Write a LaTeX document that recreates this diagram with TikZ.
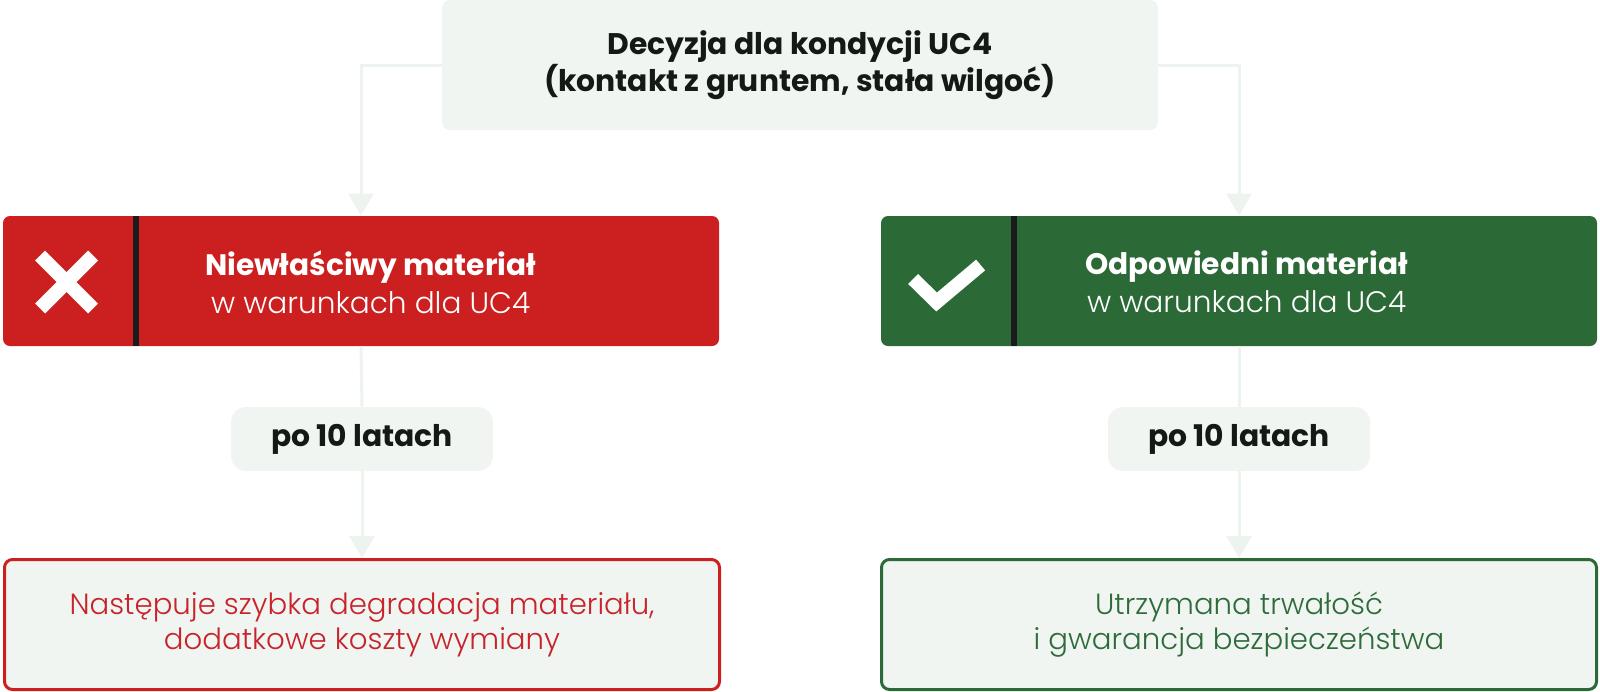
\documentclass[tikz,border=0pt]{standalone}
\usepackage{fontspec}
\setmainfont{Poppins}
\newfontfamily\lightfont{Poppins}[UprightFont={* Light}]
\usetikzlibrary{arrows.meta,calc}
\definecolor{boxfill}{HTML}{F0F5F2}
\definecolor{linecol}{HTML}{EDF3EF}
\definecolor{badred}{HTML}{CC1F1F}
\definecolor{goodgreen}{HTML}{2B6A36}
\definecolor{darktext}{HTML}{131A16}
\definecolor{divcol}{HTML}{1B1B1B}
\definecolor{badtext}{HTML}{C8232A}
\definecolor{goodtext}{HTML}{2E6B3A}
\begin{document}
\begin{tikzpicture}[x=0.5pt,y=-0.5pt]
  \tikzstyle{every node}+=[inner sep=0pt]
  \tikzset{
    greybox/.style={fill=boxfill, rounded corners=4pt, text=darktext},
    bigbox/.style={minimum width=358pt, minimum height=65pt, rounded corners=3.5pt},
    outbox/.style={fill=boxfill, line width=1.5pt, rounded corners=4pt, minimum width=357.5pt,
      minimum height=65pt, align=center, font=\lightfont\fontsize{14.6}{17.5}\selectfont},
    headfont/.style={font=\bfseries\fontsize{14.9}{17}\selectfont},
    conn/.style={draw=linecol, line width=1.5pt},
    tip/.style={-{Triangle[width=12.5pt,length=11pt]}},
    icon/.style={white, line width=7pt}
  }
  \useasboundingbox (0,0) rectangle (1600,691);
  \node [greybox, headfont, minimum width=358pt, minimum height=65pt, align=center] (top) at (800,65)
    {Decyzja dla kondycji UC4\\(kontakt z gruntem, stała wilgoć)};
  \node [bigbox, fill=badred] (bad) at (361,281) {};
  \node [bigbox, fill=goodgreen] (good) at (1239,281) {};
  \node [greybox, headfont, minimum width=131pt, minimum height=32pt, rounded corners=7.5pt] (badlater) at (362,439) {po 10 latach};
  \node [greybox, headfont, minimum width=131pt, minimum height=32pt, rounded corners=7.5pt] (goodlater) at (1239,439) {po 10 latach};
  \node [outbox, draw=badred, text=badtext] (badend) at (362,624.5)
    {Następuje szybka degradacja materiału,\\dodatkowe koszty wymiany};
  \node [outbox, draw=goodgreen, text=goodtext] (goodend) at (1239,624.5)
    {Utrzymana trwałość\\i gwarancja bezpieczeństwa};
  \draw [divcol, line width=3pt] ($(bad.north west)+(133.5,0)$) -- ($(bad.south west)+(133.5,0)$);
  \draw [divcol, line width=3pt] ($(good.north west)+(133.5,0)$) -- ($(good.south west)+(133.5,0)$);
  \node [text=white, align=center, font=\fontsize{14.8}{19}\selectfont] (badtitle) at ($(bad.west)+(368,1)$)
    {\textbf{Niewłaściwy materiał}\\{\lightfont w warunkach dla UC4}};
  \node [text=white, align=center, font=\fontsize{14.8}{19}\selectfont] (goodtitle) at ($(good.west)+(366,1)$)
    {\textbf{Odpowiedni materiał}\\{\lightfont w warunkach dla UC4}};
  \coordinate (badicon) at ($(bad.west)+(64,1)$);
  \draw [icon] ($(badicon)+(-26.5,-26.5)$) -- ($(badicon)+(26.5,26.5)$);
  \draw [icon] ($(badicon)+(-26.5,26.5)$) -- ($(badicon)+(26.5,-26.5)$);
  \coordinate (goodicon) at ($(good.west)+(64,1)$);
  \draw [icon, line join=miter] ($(goodicon)+(-31.5,-3)$) -- ($(goodicon)+(-8,20)$) -- ($(goodicon)+(36,-17)$);
  \draw [conn, tip] (top.west) -| (bad.north);
  \draw [conn, tip] (top.east) -| (good.north);
  \draw [conn] (bad.south) -- (badlater.north);
  \draw [conn] (good.south) -- (goodlater.north);
  \draw [conn, tip] (badlater.south) -- (badend.north);
  \draw [conn, tip] (goodlater.south) -- (goodend.north);
\end{tikzpicture}
\end{document}
